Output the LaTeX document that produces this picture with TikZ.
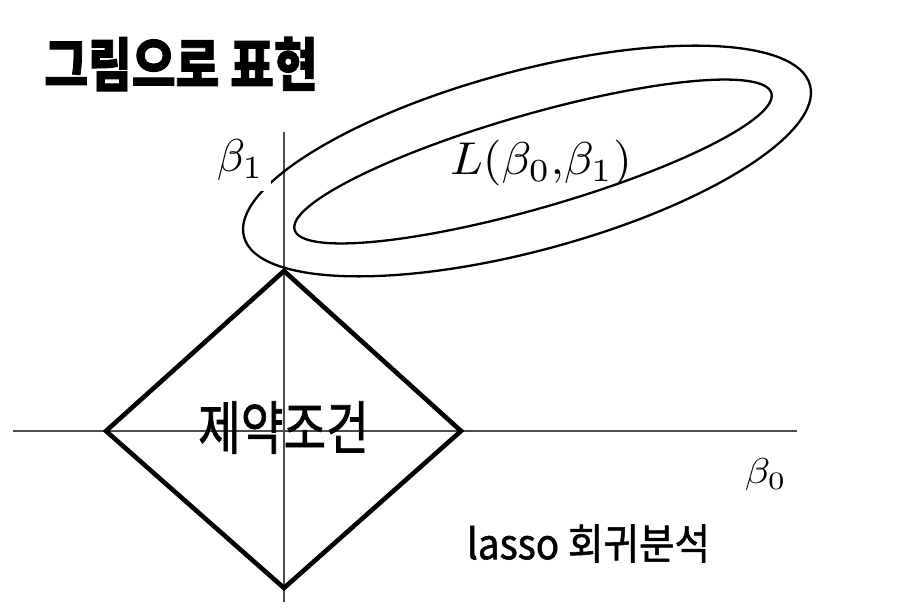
\documentclass[tikz,border=0pt]{standalone}
\usepackage{fontspec}
\newfontfamily\krfont[FakeBold=1.3]{Noto Sans CJK KR}
\newfontfamily\krheavy[BoldFeatures={FakeBold=1.6}]{Noto Sans CJK KR}
\begin{document}
\begin{tikzpicture}[x=1pt,y=1pt,
  axis/.style={line width=1.2pt, draw=black!70},
  contour/.style={line width=2.3pt},
  constraint/.style={line width=4.6pt, line join=miter},
  mathlab/.style={inner sep=0pt, scale=4.6},
  krlab/.style={inner sep=0pt}]
\useasboundingbox (0,0) rectangle (898,614);
% axes
\coordinate (ytop) at (284,482);
\coordinate (ybot) at (284,12);
\coordinate (xl) at (13,183);
\coordinate (xr) at (797,183);
\draw[axis] (ybot) -- (ytop);
\draw[axis] (xl) -- (xr);
% loss contours
\coordinate (c1) at (527,453);
\coordinate (c2) at (533,452.5);
\draw[contour, rotate around={15:(c1)}] (c1) ellipse [x radius=293, y radius=90];
\draw[contour, rotate around={16:(c2)}] (c2) ellipse [x radius=248, y radius=47];
% white backing of the beta_1 label
\node[fill=white, inner sep=0pt, minimum width=60pt, minimum height=60pt, anchor=south east] (gap) at (271,423) {};
% constraint diamond
\coordinate (dt) at (284,343);
\coordinate (dr) at (461,183);
\coordinate (db) at (284,26);
\coordinate (dl) at (106,183);
\draw[constraint] (dt) -- (dr) -- (db) -- (dl) -- cycle;
% labels
\node[mathlab, anchor=base west] (b1) at (216,442) {$\beta_1$};
\node[mathlab, anchor=base, xscale=1.05] (L) at (541,439) {$L(\beta_0{,}\beta_1)$};
\node[mathlab, scale=0.78, anchor=base west, xscale=1.15] (b0) at (744,130) {$\beta_0$};
\node[krlab, font=\krfont\fontsize{58}{60}\selectfont, xscale=0.8] (con) at (283.5,186.5) {제약조건};
\node[krlab, font=\krfont\fontsize{42}{46}\selectfont, xscale=0.92] (lasso) at (588.5,70.5) {lasso 회귀분석};
\node[krlab, font=\krheavy\bfseries\fontsize{58}{60}\selectfont, xscale=0.82] (title) at (181,550) {그림으로 표현};
\end{tikzpicture}
\end{document}
